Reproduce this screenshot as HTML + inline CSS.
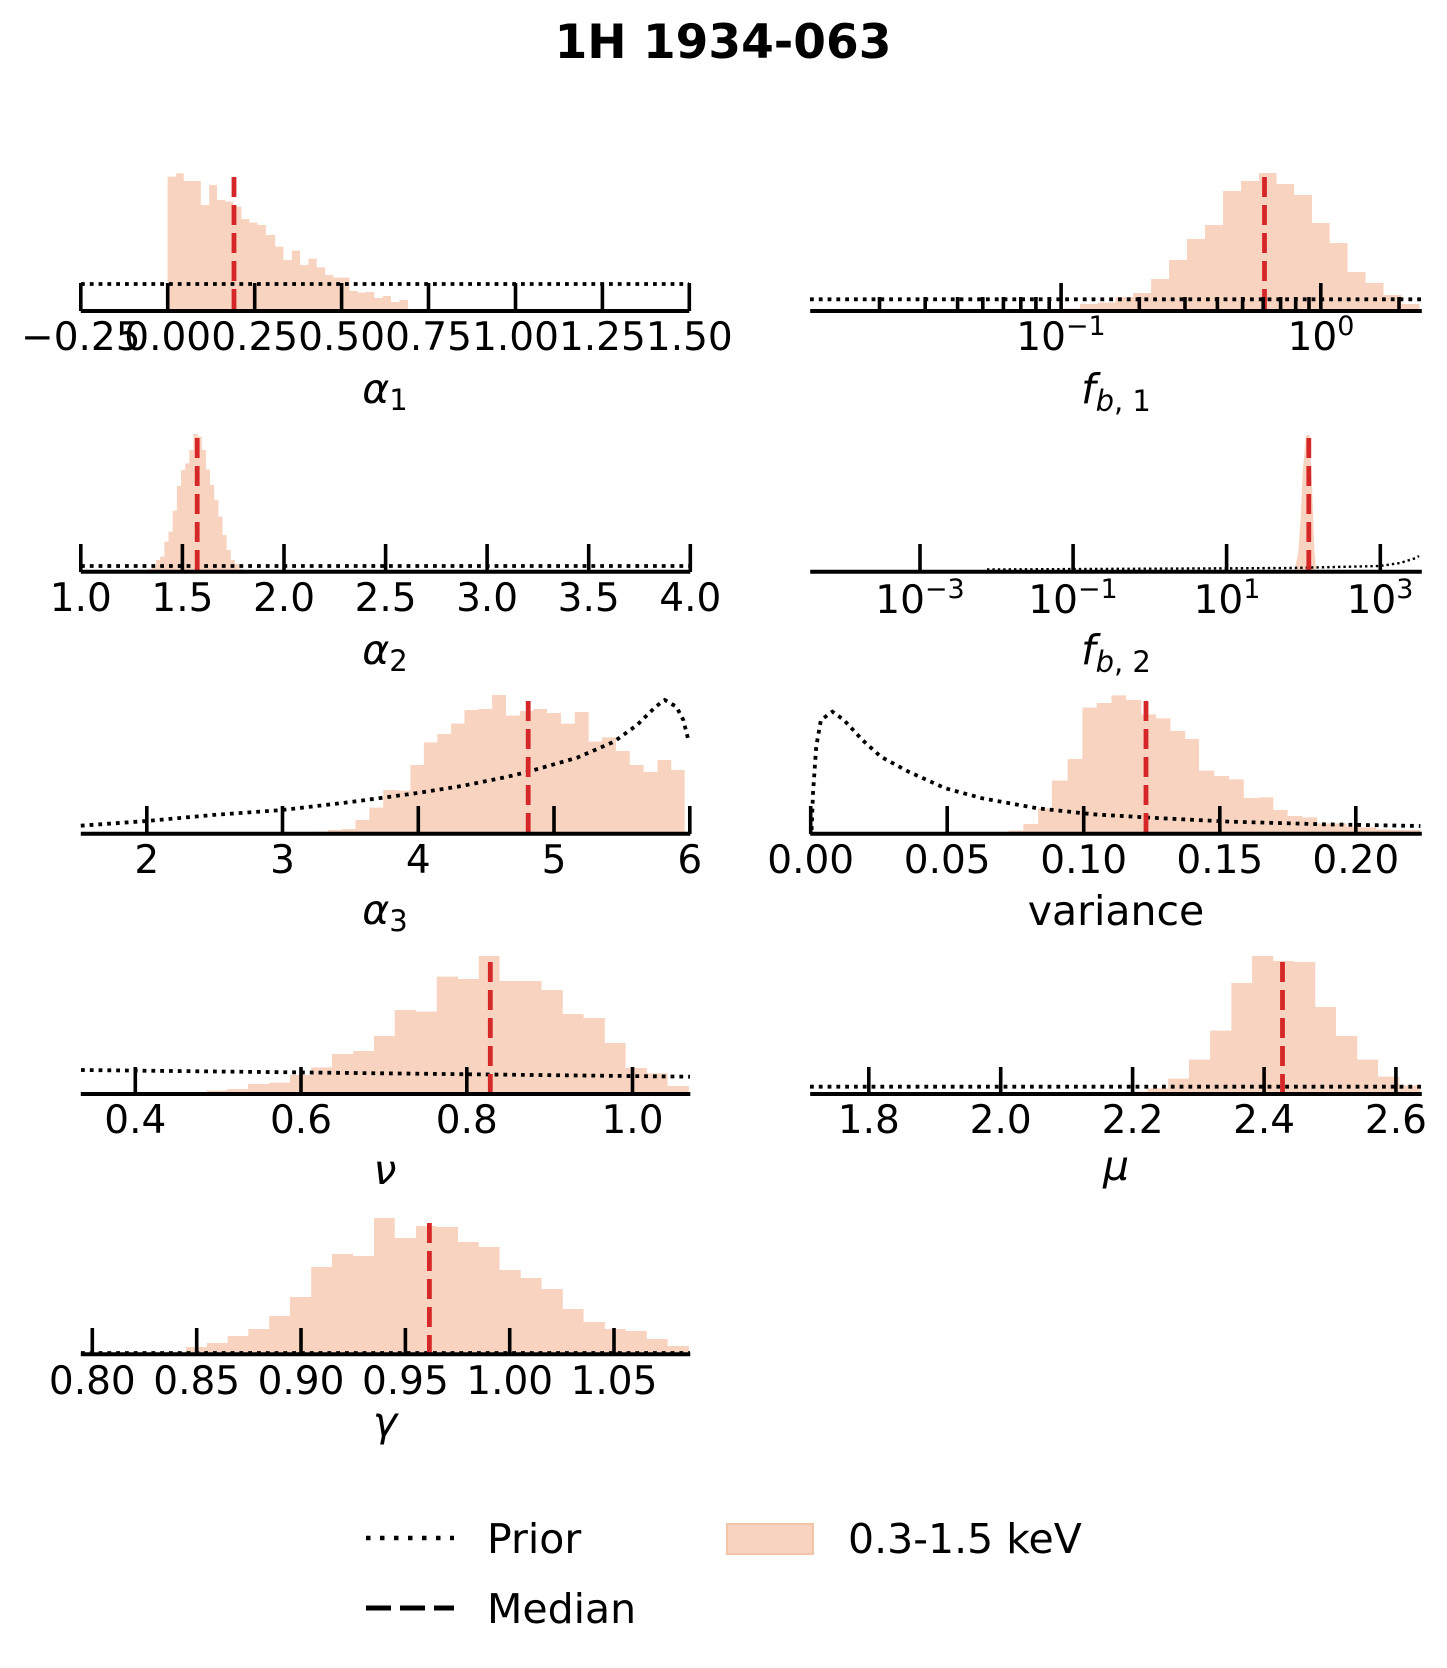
<!DOCTYPE html>
<html><head><meta charset="utf-8"><style>
html,body{margin:0;padding:0;background:#fff;}
svg{display:block;}
text{font-family:"DejaVu Sans","Liberation Sans",sans-serif;fill:#000;}
.t{font-size:39px;text-anchor:middle;}
.l{font-size:41px;text-anchor:middle;font-style:italic;}
.h{fill:#f8d4c0;}
.ax{stroke:#000;stroke-width:4;fill:none;}
.tk{stroke:#000;stroke-width:3.6;}
.pr{stroke:#000;stroke-width:3.8;fill:none;stroke-dasharray:3.8,5;}
.md{stroke:#d62728;stroke-width:4.8;stroke-dasharray:20,8;}
</style></head><body>
<svg width="1447" height="1668" viewBox="0 0 1447 1668" xmlns="http://www.w3.org/2000/svg">
<text x="723" y="58" style="font-size:47px;font-weight:bold;text-anchor:middle">1H 1934-063</text>

<g transform="translate(0,140) scale(0.46169,0.33333)"><path class="h" d="M363 512 V110 H381 V100 H398 V123 H435 V195 H453 V135 H470 V180 H488 V185 H505 V200 H523 V237 H540 V248 H558 V255 H576 V285 H596 V320 H614 V360 H632 V332 H650 V375 H668 V356 H686 V382 H704 V405 H722 V413 H757 V453 H775 V458 H793 V456 H811 V474 H829 V468 H847 V486 H865 V480 H884 V512 Z"/></g>
<line class="pr" x1="81" y1="284" x2="689" y2="284"/>
<line class="md" x1="234" y1="177" x2="234" y2="311"/>
<line class="ax" x1="80.8" y1="311" x2="689.3" y2="311"/>
<g class="tk"><line x1="80.8" y1="283" x2="80.8" y2="311"/><line x1="167.7" y1="283" x2="167.7" y2="311"/><line x1="254.7" y1="283" x2="254.7" y2="311"/><line x1="341.6" y1="283" x2="341.6" y2="311"/><line x1="428.5" y1="283" x2="428.5" y2="311"/><line x1="515.5" y1="283" x2="515.5" y2="311"/><line x1="602.4" y1="283" x2="602.4" y2="311"/><line x1="689.3" y1="283" x2="689.3" y2="311"/></g>
<text class="t" x="80.8" y="350">−0.25</text><text class="t" x="167.7" y="350">0.00</text><text class="t" x="254.7" y="350">0.25</text><text class="t" x="341.6" y="350">0.50</text><text class="t" x="428.5" y="350">0.75</text><text class="t" x="515.5" y="350">1.00</text><text class="t" x="602.4" y="350">1.25</text><text class="t" x="689.3" y="350">1.50</text>
<text class="l" x="385" y="403">α<tspan style="font-style:normal;font-size:29px" dy="7">1</tspan></text>

<g transform="translate(724,140) scale(0.46122,0.33333)"><path class="h" d="M735 512 V506 H772 V492 H811 V488 H849 V471 H887 V459 H926 V417 H965 V360 H1004 V297 H1043 V255 H1082 V153 H1121 V123 H1160 V99 H1198 V132 H1236 V165 H1275 V249 H1313 V309 H1352 V396 H1391 V429 H1430 V465 H1469 V492 H1508 V512 Z"/></g>
<line class="pr" x1="810" y1="299.3" x2="1422" y2="299.3"/>
<line class="md" x1="1264.5" y1="177" x2="1264.5" y2="311"/>
<line class="ax" x1="810.2" y1="311" x2="1421.8" y2="311"/>
<g class="tk">
<line x1="1061.1" y1="283" x2="1061.1" y2="311"/><line x1="1320.8" y1="283" x2="1320.8" y2="311"/>
<line x1="879.5" y1="297" x2="879.5" y2="311"/><line x1="925.2" y1="297" x2="925.2" y2="311"/><line x1="957.6" y1="297" x2="957.6" y2="311"/><line x1="982.8" y1="297" x2="982.8" y2="311"/><line x1="1003.4" y1="297" x2="1003.4" y2="311"/><line x1="1020.8" y1="297" x2="1020.8" y2="311"/><line x1="1035.9" y1="297" x2="1035.9" y2="311"/><line x1="1049.2" y1="297" x2="1049.2" y2="311"/>
<line x1="1139.3" y1="297" x2="1139.3" y2="311"/><line x1="1185" y1="297" x2="1185" y2="311"/><line x1="1217.4" y1="297" x2="1217.4" y2="311"/><line x1="1242.6" y1="297" x2="1242.6" y2="311"/><line x1="1263.2" y1="297" x2="1263.2" y2="311"/><line x1="1280.6" y1="297" x2="1280.6" y2="311"/><line x1="1295.7" y1="297" x2="1295.7" y2="311"/><line x1="1309" y1="297" x2="1309" y2="311"/>
<line x1="1399" y1="297" x2="1399" y2="311"/>
</g>
<text class="t" x="1061" y="350">10<tspan font-size="27" dy="-15">−1</tspan></text>
<text class="t" x="1321" y="350">10<tspan font-size="27" dy="-15">0</tspan></text>
<text class="l" x="1116" y="403">f<tspan font-size="29" dy="8">b</tspan><tspan font-size="29" style="font-style:normal">, 1</tspan></text>

<g transform="translate(0,420) scale(0.46169,0.33333)"><path class="h" d="M320 455 V447 H330 V440 H338 V420 H347 V410 H356 V365 H365 V335 H374 V272 H383 V198 H392 V150 H401 V130 H410 V90 H419 V42 H428 V50 H437 V90 H446 V148 H455 V195 H464 V240 H473 V290 H482 V345 H491 V390 H500 V420 H509 V432 H518 V447 H527 V455 Z"/></g>
<line class="pr" x1="81" y1="566" x2="690" y2="566"/>
<line class="md" x1="197.2" y1="438" x2="197.2" y2="572"/>
<line class="ax" x1="80.8" y1="571.7" x2="690.3" y2="571.7"/>
<g class="tk"><line x1="80.8" y1="544" x2="80.8" y2="572"/><line x1="182.4" y1="544" x2="182.4" y2="572"/><line x1="284" y1="544" x2="284" y2="572"/><line x1="385.6" y1="544" x2="385.6" y2="572"/><line x1="487.1" y1="544" x2="487.1" y2="572"/><line x1="588.7" y1="544" x2="588.7" y2="572"/><line x1="690.3" y1="544" x2="690.3" y2="572"/></g>
<text class="t" x="80.8" y="611">1.0</text><text class="t" x="182.4" y="611">1.5</text><text class="t" x="284" y="611">2.0</text><text class="t" x="385.6" y="611">2.5</text><text class="t" x="487.1" y="611">3.0</text><text class="t" x="588.7" y="611">3.5</text><text class="t" x="690.3" y="611">4.0</text>
<text class="l" x="385" y="664">α<tspan style="font-style:normal;font-size:29px" dy="7">2</tspan></text>

<g transform="translate(724,420) scale(0.46122,0.33333)"><path class="h" d="M1236 455 L1245 400 L1250 300 L1255 150 L1262 45 L1270 45 L1275 200 L1280 390 L1284 455 Z"/></g>
<path class="pr" style="stroke-width:2.4;stroke-dasharray:2.4,3" d="M987 569.5 L1290 568 L1380 566 L1400 563 L1416 558 L1419 556"/>
<line class="md" x1="1308.8" y1="438" x2="1308.8" y2="572"/>
<line class="ax" x1="810.2" y1="571.7" x2="1421.8" y2="571.7"/>
<g class="tk"><line x1="920" y1="544" x2="920" y2="572"/><line x1="1073.1" y1="544" x2="1073.1" y2="572"/><line x1="1226.6" y1="544" x2="1226.6" y2="572"/><line x1="1380.3" y1="544" x2="1380.3" y2="572"/></g>
<text class="t" x="920" y="613">10<tspan font-size="27" dy="-15">−3</tspan></text>
<text class="t" x="1073" y="613">10<tspan font-size="27" dy="-15">−1</tspan></text>
<text class="t" x="1227" y="613">10<tspan font-size="27" dy="-15">1</tspan></text>
<text class="t" x="1380" y="613">10<tspan font-size="27" dy="-15">3</tspan></text>
<text class="l" x="1116" y="664">f<tspan font-size="29" dy="8">b</tspan><tspan font-size="29" style="font-style:normal">, 2</tspan></text>

<g transform="translate(0,680) scale(0.46169,0.33333)"><path class="h" d="M680 461 V455 H710 V450 H740 V447 H770 V420 H800 V383 H830 V330 H860 V332 H889 V255 H918 V187 H947 V162 H977 V131 H1006 V90 H1036 V87 H1066 V45 H1096 V107 H1126 V93 H1155 V87 H1185 V99 H1215 V131 H1245 V96 H1275 V185 H1304 V172 H1334 V213 H1364 V255 H1394 V276 H1424 V240 H1454 V270 H1483 V461 Z"/></g>
<path class="pr" d="M80.8 825.7 L146.8 821 L212.4 815 L282.5 810 L350.9 802 L415.5 793.3 L461.7 786 L507.8 776.7 L528.2 771.7 L577.1 757.7 L614 741.7 L637.1 725 L655.6 706.7 L664.8 700 L676.4 706.7 L683.3 720 L688.8 741.7"/>
<line class="md" x1="528.2" y1="701" x2="528.2" y2="834"/>
<line class="ax" x1="80.8" y1="833.7" x2="690.3" y2="833.7"/>
<g class="tk"><line x1="146.8" y1="806" x2="146.8" y2="834"/><line x1="282.5" y1="806" x2="282.5" y2="834"/><line x1="418.3" y1="806" x2="418.3" y2="834"/><line x1="554" y1="806" x2="554" y2="834"/><line x1="689.8" y1="806" x2="689.8" y2="834"/></g>
<text class="t" x="146.8" y="873">2</text><text class="t" x="282.5" y="873">3</text><text class="t" x="418.3" y="873">4</text><text class="t" x="554" y="873">5</text><text class="t" x="689.8" y="873">6</text>
<text class="l" x="385" y="924">α<tspan style="font-style:normal;font-size:29px" dy="7">3</tspan></text>

<g transform="translate(724,680) scale(0.46122,0.33333)"><path class="h" d="M617 461 V452 H649 V432 H681 V385 H711 V302 H745 V237 H777 V83 H808 V69 H840 V46 H872 V60 H905 V103 H937 V115 H968 V153 H1000 V177 H1030 V272 H1063 V288 H1095 V298 H1127 V354 H1159 V352 H1191 V390 H1222 V408 H1254 V412 H1286 V430 H1350 V440 H1382 V442 H1414 V448 H1446 V450 H1510 V461 Z"/></g>
<path class="pr" d="M811.6 830 L813 793.3 L816.2 746.7 L820.9 720 L832.4 711.7 L843.9 720 L862.4 740 L880.8 756.7 L908.5 771.7 L945.4 788.3 L982.3 798.3 L1037.6 808.3 L1093 814.3 L1162.2 818.3 L1231.3 821.7 L1323.6 824.3 L1420.4 826"/>
<line class="md" x1="1146" y1="701" x2="1146" y2="834"/>
<line class="ax" x1="810.2" y1="833.7" x2="1421.8" y2="833.7"/>
<g class="tk"><line x1="810.7" y1="806" x2="810.7" y2="834"/><line x1="947.2" y1="806" x2="947.2" y2="834"/><line x1="1083.7" y1="806" x2="1083.7" y2="834"/><line x1="1219.8" y1="806" x2="1219.8" y2="834"/><line x1="1355.8" y1="806" x2="1355.8" y2="834"/></g>
<text class="t" x="810.7" y="873">0.00</text><text class="t" x="947.2" y="873">0.05</text><text class="t" x="1083.7" y="873">0.10</text><text class="t" x="1219.8" y="873">0.15</text><text class="t" x="1355.8" y="873">0.20</text>
<text class="l" x="1116" y="925" style="font-style:normal">variance</text>

<g transform="translate(0,940) scale(0.46169,0.33333)"><path class="h" d="M355 462 V457 H447 V452 H492 V447 H537 V432 H583 V428 H628 V405 H674 V382 H719 V342 H765 V333 H810 V288 H855 V210 H901 V215 H946 V110 H992 V117 H1037 V48 H1082 V123 H1173 V150 H1219 V222 H1264 V234 H1310 V309 H1355 V384 H1401 V400 H1446 V438 H1492 V462 Z"/></g>
<line class="pr" x1="81" y1="1070" x2="690" y2="1076.7"/>
<line class="md" x1="490.3" y1="962" x2="490.3" y2="1094"/>
<line class="ax" x1="80.8" y1="1094" x2="690.3" y2="1094"/>
<g class="tk"><line x1="135.3" y1="1067" x2="135.3" y2="1094"/><line x1="301" y1="1067" x2="301" y2="1094"/><line x1="466.8" y1="1067" x2="466.8" y2="1094"/><line x1="632.5" y1="1067" x2="632.5" y2="1094"/></g>
<text class="t" x="135.3" y="1133">0.4</text><text class="t" x="301" y="1133">0.6</text><text class="t" x="466.8" y="1133">0.8</text><text class="t" x="632.5" y="1133">1.0</text>
<text class="l" x="385" y="1184">ν</text>

<g transform="translate(724,940) scale(0.46122,0.33333)"><path class="h" d="M872 462 V455 H918 V445 H963 V416 H1008 V359 H1054 V272 H1100 V129 H1145 V48 H1191 V63 H1236 V66 H1282 V201 H1327 V288 H1373 V359 H1418 V410 H1464 V436 H1510 V462 Z"/></g>
<line class="pr" x1="810" y1="1086.7" x2="1422" y2="1086.7"/>
<line class="md" x1="1282.5" y1="962" x2="1282.5" y2="1094"/>
<line class="ax" x1="810.2" y1="1094" x2="1421.8" y2="1094"/>
<g class="tk"><line x1="868.8" y1="1067" x2="868.8" y2="1094"/><line x1="1000.7" y1="1067" x2="1000.7" y2="1094"/><line x1="1132.6" y1="1067" x2="1132.6" y2="1094"/><line x1="1264.1" y1="1067" x2="1264.1" y2="1094"/><line x1="1395.9" y1="1067" x2="1395.9" y2="1094"/></g>
<text class="t" x="868.8" y="1133">1.8</text><text class="t" x="1000.7" y="1133">2.0</text><text class="t" x="1132.6" y="1133">2.2</text><text class="t" x="1264.1" y="1133">2.4</text><text class="t" x="1395.9" y="1133">2.6</text>
<text class="l" x="1116" y="1180">μ</text>

<g transform="translate(0,1200) scale(0.46169,0.33333)"><path class="h" d="M358 463 V455 H403 V441 H448 V429 H493 V408 H538 V387 H583 V348 H628 V291 H674 V201 H719 V162 H765 V168 H810 V54 H855 V114 H901 V78 H946 V81 H992 V126 H1037 V141 H1082 V210 H1128 V234 H1173 V267 H1219 V327 H1264 V366 H1310 V387 H1355 V393 H1401 V417 H1446 V438 H1492 V463 Z"/></g>
<line class="pr" x1="81" y1="1352.5" x2="690" y2="1352.5" style="stroke-width:2.8"/>
<line class="md" x1="429.4" y1="1223" x2="429.4" y2="1354"/>
<line class="ax" x1="80.8" y1="1354.3" x2="690.3" y2="1354.3"/>
<g class="tk"><line x1="92.3" y1="1328" x2="92.3" y2="1354"/><line x1="196.7" y1="1328" x2="196.7" y2="1354"/><line x1="301" y1="1328" x2="301" y2="1354"/><line x1="405.4" y1="1328" x2="405.4" y2="1354"/><line x1="509.7" y1="1328" x2="509.7" y2="1354"/><line x1="614" y1="1328" x2="614" y2="1354"/></g>
<text class="t" x="92.3" y="1394">0.80</text><text class="t" x="196.7" y="1394">0.85</text><text class="t" x="301" y="1394">0.90</text><text class="t" x="405.4" y="1394">0.95</text><text class="t" x="509.7" y="1394">1.00</text><text class="t" x="614" y="1394">1.05</text>
<text class="l" x="385" y="1436">γ</text>

<line x1="366" y1="1538" x2="454" y2="1538" style="stroke:#000;stroke-width:4.5;stroke-dasharray:4.5,9.5"/>
<line x1="366" y1="1608" x2="454" y2="1608" style="stroke:#000;stroke-width:5;stroke-dasharray:25,9"/>
<rect x="727" y="1524" width="86" height="30" style="fill:#f8d4c0;stroke:#f4c4a8;stroke-width:2"/>
<text x="487" y="1553" style="font-size:41px">Prior</text>
<text x="487" y="1623" style="font-size:41px">Median</text>
<text x="848" y="1553" style="font-size:41px">0.3-1.5 keV</text>
</svg>
</body></html>
